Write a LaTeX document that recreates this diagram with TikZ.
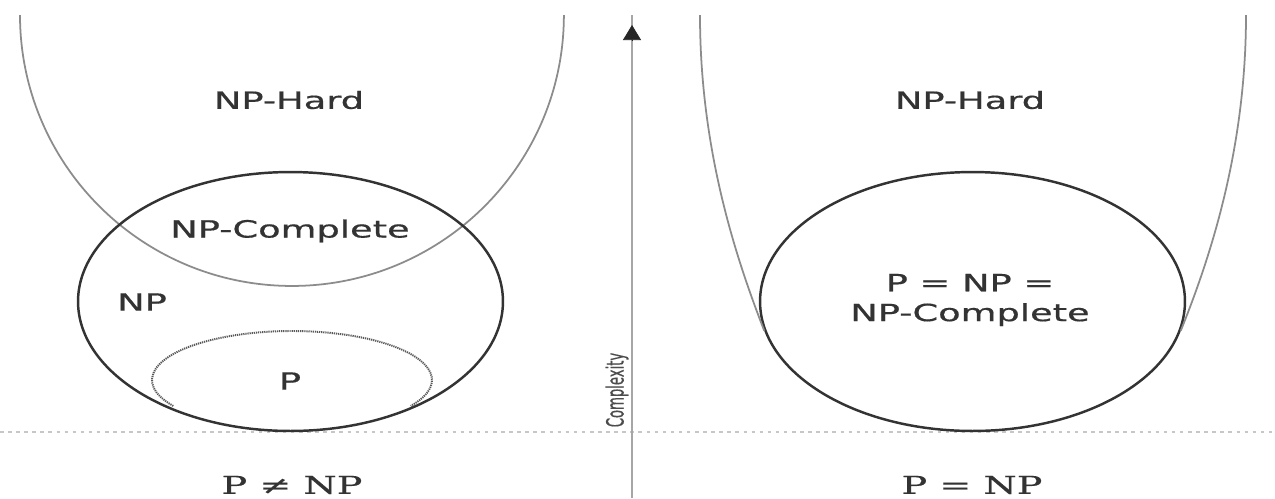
\documentclass[tikz,border=0pt]{standalone}
\usepackage{graphicx}
\usepackage{fontspec}
\setmainfont{DejaVu Sans}
\newfontfamily\lblface[FakeBold=0.5]{DejaVu Sans}
\newfontfamily\serifface[FakeBold=0.4]{DejaVu Serif}
\usetikzlibrary{shapes.geometric,arrows.meta}
\newcommand\widetext[1]{\scalebox{1.55}[1]{#1}}
\begin{document}
\begin{tikzpicture}[x=0.02cm,y=-0.02cm,
  lbl/.style={text=black!80, font=\lblface\fontsize{13.5}{17}\selectfont, inner sep=0pt, align=center},
  rel/.style={text=black!80, font=\serifface\fontsize{14}{17}\selectfont, inner sep=0pt},
  setring/.style={draw=black!80, line width=1.4pt, ellipse, inner sep=0pt},
  psetline/.style={draw=black!65, line width=1.1pt, dash pattern=on 0.7pt off 0.5pt},
  hardline/.style={draw=black!45, line width=1pt},
  baseline/.style={draw=black!22, line width=0.7pt, dash pattern=on 2pt off 2.6pt},
  axisline/.style={draw=black!35, line width=1.5pt}]
\useasboundingbox (0,0) rectangle (1275,498);
\fill[white] (0,0) rectangle (1275,498);

% baseline
\coordinate (bl0) at (0,432);
\coordinate (bl1) at (1275,432);
\draw[baseline] (bl0) -- (bl1);

% ---------- left: P != NP ----------
\coordinate (hardLstart) at (20,15);
\draw[hardline] (hardLstart) arc[start angle=180, end angle=360, x radius=5.44cm, y radius=5.42cm];
\coordinate (pLc) at (292,380);
\draw[psetline] (pLc) ++(212:2.8cm and 0.98cm) arc[start angle=212, end angle=-32, x radius=2.8cm, y radius=0.98cm];
\node[setring, minimum width=8.5cm, minimum height=5.18cm] (npL) at (290.5,301.5) {};

\node[lbl] (hardLlbl) at (289,100) {\widetext{NP-Hard}};
\node[lbl] (npcLlbl) at (290,231) {\widetext{NP-Complete}};
\node[lbl] (npLlbl) at (142,302) {\widetext{NP}};
\node[lbl] (pLlbl) at (290,381) {\widetext{P}};
\node[rel] (neq) at (292,485) {\widetext{P ≠ NP}};

% ---------- axis ----------
\coordinate (axB) at (632,498);
\coordinate (axT) at (632,15);
\coordinate (axTipBase) at (632,41);
\coordinate (axTip) at (632,25);
\draw[axisline] (axB) -- (axT);
\draw[black!85, line width=0.4pt, -{Triangle[length=0.3cm, width=0.36cm]}] (axTipBase) -- (axTip);
\node[text=black!70, font=\lblface\fontsize{7.5}{9}\selectfont, rotate=90, inner sep=0pt] (cplx) at (617,390) {\scalebox{1}[1.8]{Complexity}};

% ---------- right: P = NP ----------
\node[setring, minimum width=8.5cm, minimum height=5.18cm] (npR) at (972.5,301.5) {};
\coordinate (hardRtl) at (700,15);
\coordinate (hardRtr) at (1246,15);
\draw[hardline] (hardRtl) .. controls (700,150) and (736,258) .. (npR.188);
\draw[hardline] (hardRtr) .. controls (1246,150) and (1210,258) .. (npR.-8);

\node[lbl] (hardRlbl) at (970,100) {\widetext{NP-Hard}};
\node[lbl] (eqRlbl) at (970,300) {\widetext{P = NP =}\\\widetext{NP-Complete}};
\node[rel] (eq) at (972,485) {\widetext{P = NP}};
\end{tikzpicture}
\end{document}
